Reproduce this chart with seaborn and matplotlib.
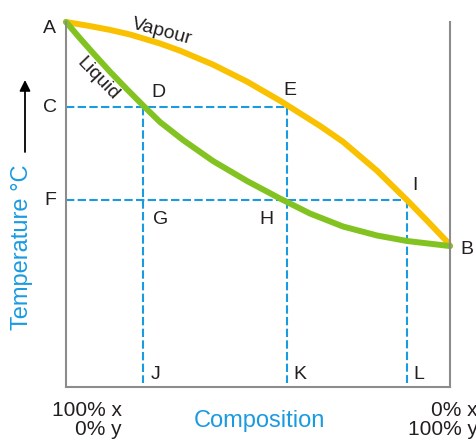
import numpy as np
import pandas as pd
import matplotlib
matplotlib.use('Agg')
import matplotlib.pyplot as plt
import seaborn as sns

# phase diagram (composition %, temperature in arbitrary units)
vapour_x = [0, 6.25, 11.46, 16.67, 24.48, 29.69, 38.28, 47.14, 55.73, 66.15,
            72.14, 80.99, 88.80, 94.01, 99.22, 100]
vapour_t = [100, 98.88, 97.84, 96.58, 94.11, 92.14, 88.33, 83.67, 78.44,
            71.53, 67.18, 59.26, 51.21, 45.59, 39.84, 38.63]
liquid_x = [0, 3.65, 7.11, 11.46, 15.81, 20.13, 24.48, 30.47, 38.28, 47.14,
            55.73, 63.54, 72.14, 80.99, 88.80, 99.22, 100]
liquid_t = [100, 95.53, 91.42, 86.38, 81.64, 77.07, 72.60, 67.67, 61.92,
            56.44, 51.64, 47.53, 43.97, 41.51, 40.0, 38.71, 38.63]

# tie lines: C-D-E at t_c, F-G-H-I at t_f
t_c, t_f = 76.7, 51.2
x_d, x_e, x_i = 20.1, 57.6, 88.8
t_floor = 1.0

sns.set_style('white')
plt.rcParams['font.family'] = ['Liberation Sans', 'DejaVu Sans']

yellow = '#f9c100'
green = '#82c321'
blue = '#1a9be0'
ink = '#231f20'

fig = plt.figure(figsize=(4.76, 4.40), dpi=100)
ax = fig.add_axes([66/476, 53/440, 384/476, 365/440])

dash = dict(color=blue, lw=1.5, linestyle=(0, (4, 1.6)), clip_on=False)
ax.plot([0, x_e], [t_c, t_c], **dash)
ax.plot([0, x_i], [t_f, t_f], **dash)
for xv, top in [(x_d, t_c), (x_e, t_c), (x_i, t_f)]:
    ax.plot([xv, xv], [top, t_floor], **dash)

vap = pd.DataFrame({'x': vapour_x, 't': vapour_t})
liq = pd.DataFrame({'x': liquid_x, 't': liquid_t})
sns.lineplot(data=vap, x='x', y='t', sort=False, color=yellow, lw=4.3, ax=ax,
             clip_on=False)
sns.lineplot(data=liq, x='x', y='t', sort=False, color=green, lw=4.3, ax=ax,
             clip_on=False)
for ln in ax.lines[-2:]:
    ln.set_solid_joinstyle('round')

ax.set_xlim(0, 100)
ax.set_ylim(0, 100)
ax.set_xticks([])
ax.set_yticks([])
ax.set_xlabel('')
ax.set_ylabel('')
ax.spines['top'].set_visible(False)
for s in ['left', 'right', 'bottom']:
    ax.spines[s].set_color('#8c8c8c')
    ax.spines[s].set_linewidth(1.5)

letters = [('A', -4.2, 98.1), ('C', -4.2, 76.7), ('F', -4.2, 51.2),
           ('D', 24.0, 80.8), ('E', 58.3, 81.1), ('I', 90.9, 55.3),
           ('B', 104.4, 37.8), ('G', 24.7, 45.8), ('H', 52.1, 46.0),
           ('J', 23.4, 3.3), ('K', 60.9, 3.3), ('L', 91.9, 3.3)]
for s, xv, yv in letters:
    ax.text(xv, yv, s, fontsize=14, color=ink, ha='center', va='center')

ax.text(25.0, 97.4, 'Vapour', fontsize=14, color=ink, rotation=-15,
        ha='center', va='center', rotation_mode='anchor')
ax.text(8.2, 84.4, 'Liquid', fontsize=14, color=ink, rotation=-46,
        ha='center', va='center', rotation_mode='anchor')

fig.text(22/476, 1 - 247/440, 'Temperature °C', fontsize=17, color=blue,
         rotation=90, ha='center', va='center')
ax.annotate('', xy=(25, 440 - 80), xytext=(25, 440 - 152),
            xycoords='figure pixels', textcoords='figure pixels',
            arrowprops=dict(arrowstyle='-|>', color='black', lw=1.3,
                            mutation_scale=16, shrinkA=0, shrinkB=0))

fig.text(259/476, 1 - 421/440, 'Composition', fontsize=17, color=blue,
         ha='center', va='center')
fig.text(122/476, 1 - 420/440, '100% x\n0% y', fontsize=15, color=ink,
         ha='right', va='center', linespacing=1.05)
fig.text(478/476, 1 - 420/440, '0% x\n100% y', fontsize=15, color=ink,
         ha='right', va='center', linespacing=1.05)

fig.savefig('out.png', dpi=100)
